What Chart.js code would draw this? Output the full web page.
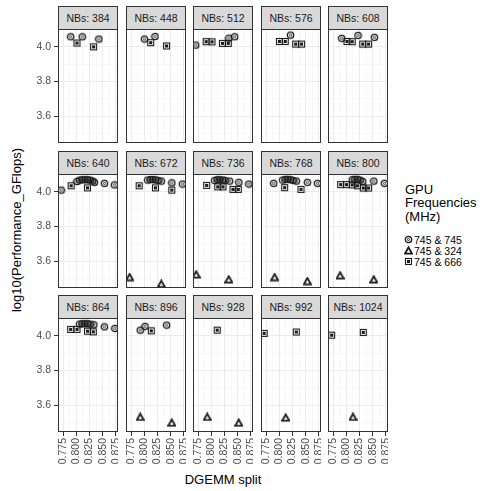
<!DOCTYPE html>
<html>
<head>
<meta charset="utf-8">
<script src="https://cdn.jsdelivr.net/npm/chart.js@4.4.0/dist/chart.umd.min.js"></script>
<style>
  body { margin: 0; background: #fff; }
  #fig { position: relative; width: 487px; height: 491px; overflow: hidden; background: #fff;
         font-family: "Liberation Sans", Arial, sans-serif; }
  #fig canvas { position: absolute; }
  .strip { position: absolute; box-sizing: border-box; border: 1px solid #333; background: #d9d9d9;
           color: #1a1a1a; font-size: 10.5px; text-align: center; line-height: 22px; white-space: nowrap; }
  .title { position: absolute; color: #000; font-size: 13px; text-align: center; white-space: nowrap; }
  .leg { position: absolute; color: #000; white-space: nowrap; }
</style>
</head>
<body>
<div id="fig"></div>
<script>
// facet values (NBs) and legend
const nbs = [384, 448, 512, 576, 608, 640, 672, 736, 768, 800, 864, 896, 928, 992, 1024];
const freqLabels = ['745 & 745', '745 & 324', '745 & 666'];

// axis breaks
const xTicks = [0.775, 0.8, 0.825, 0.85, 0.875];
const xMinor = [0.7875, 0.8125, 0.8375, 0.8625];
const yTicks = [3.6, 3.8, 4.0];
const yMinor = [3.5, 3.7, 3.9, 4.1];

// 745 & 745 (circles): DGEMM split and log10 performance, one list per panel
const split745 = [
  [0.789, 0.811, 0.8425],
  [0.800, 0.820],
  [0.770, 0.833, 0.844],
  [0.821],
  [0.791, 0.822, 0.853],
  [0.771, 0.801, 0.806, 0.811, 0.816, 0.821, 0.826, 0.831, 0.834, 0.853, 0.872],
  [0.806, 0.811, 0.816, 0.821, 0.826, 0.832, 0.852, 0.872],
  [0.806, 0.811, 0.816, 0.821, 0.826, 0.8345, 0.852, 0.871],
  [0.789, 0.806, 0.811, 0.816, 0.821, 0.826, 0.832, 0.853, 0.872],
  [0.811, 0.816, 0.821, 0.826, 0.831, 0.852, 0.872],
  [0.806, 0.811, 0.816, 0.821, 0.826, 0.833, 0.853, 0.873],
  [0.792, 0.801, 0.842],
  [], [], []
];
const perf745 = [
  [4.058, 4.058, 4.045],
  [4.045, 4.060],
  [4.010, 4.050, 4.058],
  [4.068],
  [4.049, 4.066, 4.055],
  [4.010, 4.060, 4.068, 4.070, 4.070, 4.070, 4.068, 4.062, 4.055, 4.049, 4.040],
  [4.068, 4.071, 4.071, 4.069, 4.066, 4.062, 4.052, 4.045],
  [4.066, 4.070, 4.070, 4.068, 4.066, 4.062, 4.055, 4.045],
  [4.049, 4.068, 4.072, 4.072, 4.070, 4.066, 4.062, 4.055, 4.049],
  [4.070, 4.072, 4.072, 4.068, 4.060, 4.062, 4.049],
  [4.068, 4.070, 4.070, 4.070, 4.068, 4.064, 4.052, 4.043],
  [4.033, 4.055, 4.062],
  [], [], []
];

// 745 & 324 (triangles)
const split324 = [
  [], [], [], [], [],
  [],
  [0.772, 0.832],
  [0.771, 0.833],
  [0.791, 0.853],
  [0.788, 0.852],
  [],
  [0.792, 0.852],
  [0.792, 0.852],
  [0.812],
  [0.8125]
];
const perf324 = [
  [], [], [], [], [],
  [],
  [3.508, 3.469],
  [3.524, 3.495],
  [3.508, 3.485],
  [3.518, 3.495],
  [],
  [3.532, 3.499],
  [3.532, 3.499],
  [3.528],
  [3.532]
];

// 745 & 666 (squares)
const split666 = [
  [0.801, 0.8326],
  [0.812, 0.842],
  [0.790, 0.801, 0.821, 0.832],
  [0.800, 0.811, 0.831, 0.842],
  [0.801, 0.811, 0.831, 0.842],
  [0.790, 0.821],
  [0.790, 0.821, 0.852],
  [0.791, 0.812, 0.822, 0.841, 0.851],
  [0.810, 0.841],
  [0.789, 0.800, 0.811, 0.821, 0.832, 0.842],
  [0.789, 0.801, 0.821, 0.832],
  [0.813],
  [0.811],
  [0.771, 0.832],
  [0.772, 0.832]
];
const perf666 = [
  [4.022, 4.000],
  [4.024, 4.005],
  [4.030, 4.029, 4.020, 4.020],
  [4.031, 4.031, 4.016, 4.016],
  [4.031, 4.030, 4.016, 4.016],
  [4.035, 4.023],
  [4.035, 4.023, 4.010],
  [4.037, 4.029, 4.029, 4.014, 4.014],
  [4.024, 4.014],
  [4.042, 4.042, 4.040, 4.035, 4.022, 4.022],
  [4.037, 4.037, 4.027, 4.023],
  [4.029],
  [4.033],
  [4.014, 4.022],
  [4.004, 4.020]
];

const fontFamily = '"Liberation Sans", Arial, sans-serif';
const ink = '#1a1a1a';

// double-stroked ggplot-like markers
function marker(kind) {
  const c = document.createElement('canvas');
  c.width = 9; c.height = 9;
  const g = c.getContext('2d');
  g.strokeStyle = ink;
  if (kind === 'circle') {
    g.lineWidth = 1.3;
    g.beginPath(); g.arc(4.5, 4.5, 3.2, 0, 2 * Math.PI); g.stroke();
    g.lineWidth = 0.9;
    g.beginPath(); g.arc(4.5, 4.5, 1.1, 0, 2 * Math.PI); g.stroke();
  } else if (kind === 'triangle') {
    g.lineJoin = 'miter';
    g.lineWidth = 1.9;
    g.beginPath(); g.moveTo(4.5, 1.4); g.lineTo(8.0, 7.6); g.lineTo(1.0, 7.6); g.closePath(); g.stroke();
  } else {
    g.lineWidth = 1.1;
    g.strokeRect(1.5, 1.5, 6, 6);
    g.strokeRect(3.5, 3.5, 2, 2);
  }
  return c;
}
const markers = [marker('circle'), marker('triangle'), marker('square')];

function pts(xs, ys) {
  return xs.map((x, k) => ({ x: x, y: ys[k] }));
}

function tickList(major, minor) {
  return major.map(v => ({ value: v, minor: false }))
    .concat(minor.map(v => ({ value: v, minor: true })))
    .sort((a, b) => a.value - b.value);
}

// panel border on top of everything
const panelBorder = {
  id: 'panelBorder',
  afterDraw(chart) {
    const a = chart.chartArea, ctx = chart.ctx;
    ctx.save();
    ctx.strokeStyle = '#333';
    ctx.lineWidth = 1;
    ctx.strokeRect(a.left + 0.5, a.top + 0.5, a.right - a.left - 1, a.bottom - a.top - 1);
    ctx.restore();
  }
};

const fig = document.getElementById('fig');
const colLeft = [58, 126, 193, 261, 328];
const rowTop = [6, 151, 295];
const stripH = 23, plotW = 60, plotH = 114, yAxisW = 28, xAxisH = 38;

const gridColor = ctx => ctx.tick && ctx.tick.minor ? '#f1f1f1' : '#ebebeb';
const gridWidth = ctx => ctx.tick && ctx.tick.minor ? 0.6 : 1;
const tickColor = ctx => ctx.tick && ctx.tick.minor ? 'rgba(0,0,0,0)' : '#333';

nbs.forEach((nb, i) => {
  const r = Math.floor(i / 5), c = i % 5;
  const isLeft = c === 0, isBottom = r === 2;

  const strip = document.createElement('div');
  strip.className = 'strip';
  strip.style.left = colLeft[c] + 'px';
  strip.style.top = rowTop[r] + 'px';
  strip.style.width = plotW + 'px';
  strip.style.height = (stripH + 1) + 'px';
  strip.textContent = 'NBs: ' + nb;
  fig.appendChild(strip);

  const canvas = document.createElement('canvas');
  canvas.width = plotW + (isLeft ? yAxisW : 0);
  canvas.height = plotH + (isBottom ? xAxisH : 0);
  canvas.style.left = (colLeft[c] - (isLeft ? yAxisW : 0)) + 'px';
  canvas.style.top = (rowTop[r] + stripH) + 'px';
  fig.appendChild(canvas);

  new Chart(canvas, {
    type: 'scatter',
    data: {
      datasets: [
        { label: freqLabels[0], data: pts(split745[i], perf745[i]), pointStyle: markers[0], clip: 0 },
        { label: freqLabels[1], data: pts(split324[i], perf324[i]), pointStyle: markers[1], clip: 0 },
        { label: freqLabels[2], data: pts(split666[i], perf666[i]), pointStyle: markers[2], clip: 0 }
      ]
    },
    options: {
      responsive: false,
      animation: false,
      events: [],
      layout: { padding: 0, autoPadding: false },
      plugins: { legend: { display: false }, tooltip: { enabled: false } },
      scales: {
        x: {
          type: 'linear', min: 0.765, max: 0.879,
          afterBuildTicks: s => { s.ticks = tickList(xTicks, xMinor); },
          afterFit: s => { s.height = isBottom ? xAxisH : 0; s.paddingLeft = 0; s.paddingRight = 0; },
          border: { display: false },
          grid: { color: gridColor, lineWidth: gridWidth, drawTicks: isBottom, tickLength: 4,
                  tickColor: tickColor, tickWidth: 1 },
          ticks: {
            display: isBottom, autoSkip: false, minRotation: 90, maxRotation: 90, padding: 2,
            color: '#4d4d4d', font: { size: 10.5, family: fontFamily },
            callback: (v, k, t) => t[k].minor ? '' : v.toFixed(3)
          }
        },
        y: {
          type: 'linear', min: 3.445, max: 4.103,
          afterBuildTicks: s => { s.ticks = tickList(yTicks, yMinor); },
          afterFit: s => { s.width = isLeft ? yAxisW : 0; s.paddingTop = 0; s.paddingBottom = 0; },
          border: { display: false },
          grid: { color: gridColor, lineWidth: gridWidth, drawTicks: isLeft, tickLength: 4,
                  tickColor: tickColor, tickWidth: 1 },
          ticks: {
            display: isLeft, autoSkip: false, padding: 3,
            color: '#4d4d4d', font: { size: 10.5, family: fontFamily },
            callback: (v, k, t) => t[k].minor ? '' : v.toFixed(1)
          }
        }
      }
    },
    plugins: [panelBorder]
  });
});

// axis titles
const xTitle = document.createElement('div');
xTitle.className = 'title';
xTitle.style.cssText = 'left:123px;top:472px;width:200px;height:16px;line-height:16px;';
xTitle.textContent = 'DGEMM split';
fig.appendChild(xTitle);

const yTitle = document.createElement('div');
yTitle.className = 'title';
yTitle.style.cssText = 'left:-133px;top:222px;width:300px;height:16px;line-height:16px;transform:rotate(-90deg);';
yTitle.textContent = 'log10(Performance_GFlops)';
fig.appendChild(yTitle);

// legend
const legTitle = document.createElement('div');
legTitle.className = 'leg';
legTitle.style.cssText = 'left:405px;top:183px;font-size:13px;line-height:13.4px;';
legTitle.innerHTML = 'GPU<br>Frequencies<br>(MHz)';
fig.appendChild(legTitle);

const legY = [239.5, 250.7, 261.9];
freqLabels.forEach((lab, k) => {
  const ic = document.createElement('canvas');
  ic.width = 9; ic.height = 9;
  ic.style.left = '403.5px';
  ic.style.top = (legY[k] - 4.5) + 'px';
  ic.getContext('2d').drawImage(markers[k], 0, 0);
  fig.appendChild(ic);
  const t = document.createElement('div');
  t.className = 'leg';
  t.style.cssText = 'left:414px;top:' + (legY[k] - 7) + 'px;font-size:10.5px;line-height:14px;';
  t.textContent = lab;
  fig.appendChild(t);
});
</script>
</body>
</html>
